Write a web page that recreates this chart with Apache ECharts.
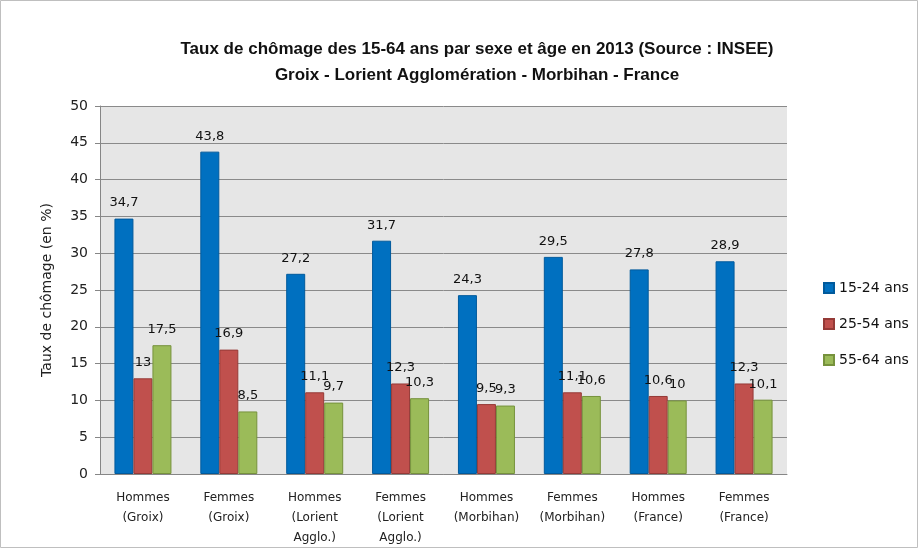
<!DOCTYPE html>
<html>
<head>
<meta charset="utf-8">
<script src="https://cdn.jsdelivr.net/npm/echarts@6/dist/echarts.min.js"></script>
<style>
  html, body { margin: 0; padding: 0; background: #fff; }
  #main { width: 918px; height: 548px; }
</style>
</head>
<body>
<div id="main"></div>
<script>
// categories and values
var categories = ["Hommes\n(Groix)", "Femmes\n(Groix)", "Hommes\n(Lorient\nAgglo.)", "Femmes\n(Lorient\nAgglo.)",
  "Hommes\n(Morbihan)", "Femmes\n(Morbihan)", "Hommes\n(France)", "Femmes\n(France)"];
var age15_24 = [34.7, 43.8, 27.2, 31.7, 24.3, 29.5, 27.8, 28.9];
var age25_54 = [13, 16.9, 11.1, 12.3, 9.5, 11.1, 10.6, 12.3];
var age55_64 = [17.5, 8.5, 9.7, 10.3, 9.3, 10.6, 10, 10.1];
var seriesNames = ["15-24 ans", "25-54 ans", "55-64 ans"];

var myChart = echarts.init(document.getElementById('main'));

function fr(v) {
  return String(v).replace('.', ',');
}

function makeSeries(name, data, color, border) {
  return {
    name: name,
    type: 'bar',
    data: data,
    barWidth: 19,
    barGap: '0%',
    itemStyle: { color: color, borderColor: border, borderWidth: 1 },
    label: {
      show: true,
      position: 'top',
      distance: 9,
      color: '#111',
      fontFamily: 'DejaVu Sans',
      fontSize: 13,
      formatter: function (p) { return fr(p.value); }
    }
  };
}

var option = {
  animation: false,
  backgroundColor: '#fff',
  title: {
    text: 'Taux de chômage des 15-64 ans par sexe et âge en 2013 (Source : INSEE)\nGroix - Lorient Agglomération - Morbihan - France',
    left: 472,
    textAlign: 'center',
    top: 31,
    textStyle: {
      fontFamily: 'Liberation Sans',
      fontWeight: 'bold',
      fontSize: 17,
      lineHeight: 26,
      color: '#111'
    }
  },
  legend: {
    orient: 'vertical',
    left: 818,
    top: 276,
    itemGap: 22,
    itemWidth: 10,
    itemHeight: 10,
    icon: 'rect',
    textStyle: { fontFamily: 'DejaVu Sans', fontSize: 14, color: '#111' },
    data: seriesNames
  },
  grid: {
    left: 100,
    right: 131,
    top: 106,
    bottom: 73,
    show: true,
    backgroundColor: '#e6e6e6',
    borderWidth: 0
  },
  xAxis: {
    type: 'category',
    data: categories,
    axisLine: { lineStyle: { color: '#868686', width: 1 } },
    axisTick: { show: false },
    axisLabel: {
      interval: 0,
      margin: 14,
      color: '#222',
      fontFamily: 'DejaVu Sans',
      fontSize: 12,
      lineHeight: 20
    }
  },
  yAxis: {
    type: 'value',
    min: 0,
    max: 50,
    interval: 5,
    name: 'Taux de chômage (en %)',
    nameLocation: 'middle',
    nameGap: 46,
    nameTextStyle: { fontFamily: 'DejaVu Sans', fontSize: 14, color: '#222' },
    axisLine: { show: true, lineStyle: { color: '#868686' } },
    axisTick: { show: true, length: 5, lineStyle: { color: '#868686' } },
    axisLabel: { color: '#222', fontFamily: 'DejaVu Sans', fontSize: 14, margin: 12 },
    splitLine: { lineStyle: { color: '#8a8a8a', width: 1 } }
  },
  graphic: [{
    type: 'rect',
    shape: { x: 0.5, y: 0.5, width: 917, height: 547 },
    style: { fill: 'none', stroke: '#bfbfbf', lineWidth: 1 },
    silent: true
  }],
  series: [
    makeSeries(seriesNames[0], age15_24, '#0070c0', '#005a9c'),
    makeSeries(seriesNames[1], age25_54, '#c0504d', '#953a37'),
    makeSeries(seriesNames[2], age55_64, '#9bbb59', '#76923c')
  ]
};

myChart.setOption(option);
window.addEventListener("resize", function () {
  myChart.resize();
});
</script>
</body>
</html>
